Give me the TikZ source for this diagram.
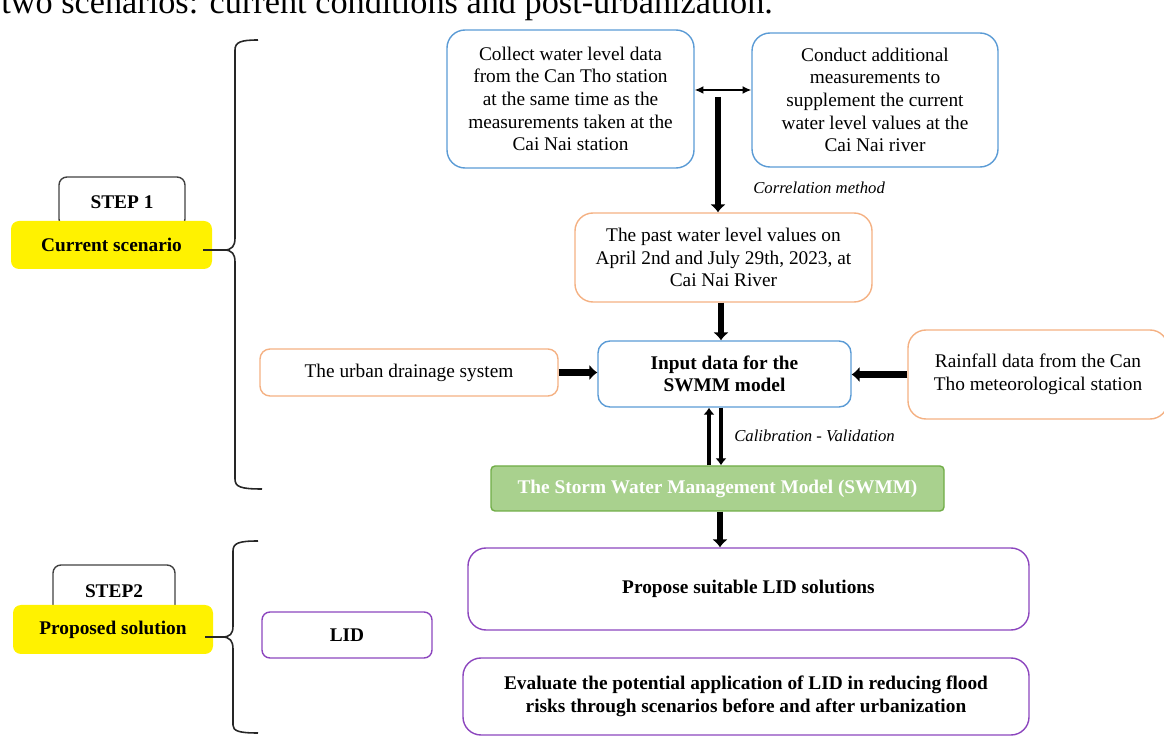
\documentclass[tikz,border=0pt]{standalone}
\usepackage{fontspec}
\setmainfont{Liberation Serif}
\usetikzlibrary{arrows.meta}
\definecolor{lanse}{RGB}{91,155,213}
\definecolor{chengse}{RGB}{244,177,131}
\definecolor{zise}{RGB}{140,70,190}
\definecolor{caolv}{RGB}{169,209,142}
\definecolor{caolvbian}{RGB}{112,173,71}
\definecolor{huise}{RGB}{64,64,64}
\newlength\px \setlength\px{0.02cm}

\begin{document}
\begin{tikzpicture}[x=0.02cm, y=-0.02cm,
	box/.style={draw, rounded corners=18\px, line width=0.8pt, align=center, inner sep=0pt, font=\fontsize{11}{12.9}\selectfont},
	bluebox/.style={box, draw=lanse},
	orangebox/.style={box, draw=chengse},
	purplebox/.style={box, draw=zise, font=\fontsize{11}{12.9}\selectfont\bfseries},
	fat/.style={line width=3.6pt, -{Latex[length=4.5pt,width=9pt]}},
	slim/.style={line width=2.8pt, -{Latex[length=4pt,width=6.5pt]}},
	note/.style={font=\fontsize{9.5}{11}\selectfont\itshape, inner sep=0pt},
	tagbox/.style={draw=huise, rounded corners=8\px, line width=0.8pt, inner sep=0pt, font=\fontsize{11}{13}\selectfont\bfseries},
	yellowtag/.style={fill=yellow, rounded corners=8\px, inner sep=0pt, font=\fontsize{11}{13}\selectfont\bfseries},
	bracket/.style={line width=0.9pt, black!85}]
			\clip (0,0) rectangle (1164,736);
			\node[anchor=base west, inner sep=0pt, font=\fontsize{19.5}{22}\selectfont] (caption) at (1,14) {two scenarios: current conditions and post-urbanization.};
			% step 1
			\node[bluebox, minimum width=247\px, minimum height=138\px] (collect) at (570.5,99) {Collect water level data\\from the Can Tho station\\at the same time as the\\measurements taken at the\\Cai Nai station};
			\node[bluebox, minimum width=246\px, minimum height=134\px] (conduct) at (875,100) {Conduct additional\\measurements to\\supplement the current\\water level values at the\\Cai Nai river};
			\node[orangebox, minimum width=297\px, minimum height=89\px] (past) at (723.5,257.5) {The past water level values on\\April 2nd and July 29th, 2023, at\\Cai Nai River};
			\node[bluebox, rounded corners=12\px, minimum width=253\px, minimum height=66\px, font=\fontsize{11}{12.9}\selectfont\bfseries] (input) at (724.5,374) {Input data for the\\SWMM model};
			\node[orangebox, rounded corners=10\px, minimum width=298\px, minimum height=47\px] (drainage) at (409,372.5) {The urban drainage system};
			\node[orangebox, minimum width=260\px, minimum height=89\px] (rainfall) at (1038,374.5) {Rainfall data from the Can\\Tho meteorological station};
			\node[draw=caolvbian, fill=caolv, rounded corners=4\px, line width=0.8pt, inner sep=0pt, minimum width=453\px, minimum height=45\px, text=white, font=\fontsize{11}{13}\selectfont\bfseries] (swmm) at (717.5,488.5) {The Storm Water Management Model (SWMM)};
			% step 2
			\node[purplebox, minimum width=561\px, minimum height=82\px] (propose) at (748.5,589) {Propose suitable LID solutions};
			\node[purplebox, minimum width=566\px, minimum height=77\px] (evaluate) at (746,696.5) {Evaluate the potential application of LID in reducing flood\\risks through scenarios before and after urbanization};
			\node[purplebox, rounded corners=8\px, minimum width=170\px, minimum height=46\px] (lid) at (347,635) {LID};
			\node[tagbox, minimum width=126\px, minimum height=50\px] (stepone) at (122,202) {STEP 1};
			\node[yellowtag, minimum width=201\px, minimum height=48\px] (current) at (111.5,245) {Current scenario};
			\node[tagbox, minimum width=122\px, minimum height=52\px] (steptwo) at (114,591) {STEP2};
			\node[yellowtag, minimum width=200\px, minimum height=49\px] (proposed) at (113,629.5) {Proposed solution};
			% arrows
			\coordinate (corr) at (718,97);
			\draw[line width=0.8pt, {Latex[length=5pt,width=4.5pt]}-{Latex[length=5pt,width=4.5pt]}] (collect.east |- 0,90) -- (conduct.west |- 0,90);
			\draw[fat] (corr) -- (corr |- past.north);
			\node[note, anchor=west] (corrnote) at (753,188) {Correlation method};
			\draw[fat] (721,0 |- past.south) -- (721,0 |- input.north);
			\draw[fat] (drainage.east) -- (drainage.east -| input.west);
			\draw[fat] (rainfall.west) -- (rainfall.west -| input.east);
			\draw[slim] (709,0 |- swmm.north) -- (709,0 |- input.south);
			\draw[slim] (721,0 |- input.south) -- (721,0 |- swmm.north);
			\node[note, anchor=west] (calnote) at (734,436) {Calibration - Validation};
			\draw[fat] (swmm.south -| 720,0) -- (720,0 |- propose.north);
			% braces
			\draw[bracket] (258,40) .. controls (241,40) and (235,42) .. (235,50) -- (235,238) .. controls (235,246) and (232,250) .. (224,250) -- (203,250);
			\draw[bracket] (224,250) .. controls (232,250) and (235,254) .. (235,262) -- (235,479) .. controls (235,487) and (241,489) .. (262,489);
			\draw[bracket] (258,541) .. controls (239,541) and (233,543) .. (233,551) -- (233,626) .. controls (233,634) and (230,637) .. (222,637) -- (205,637);
			\draw[bracket] (222,637) .. controls (230,637) and (233,641) .. (233,649) -- (233,725) .. controls (233,731) and (239,733) .. (258,733);
		\end{tikzpicture}
\end{document}
